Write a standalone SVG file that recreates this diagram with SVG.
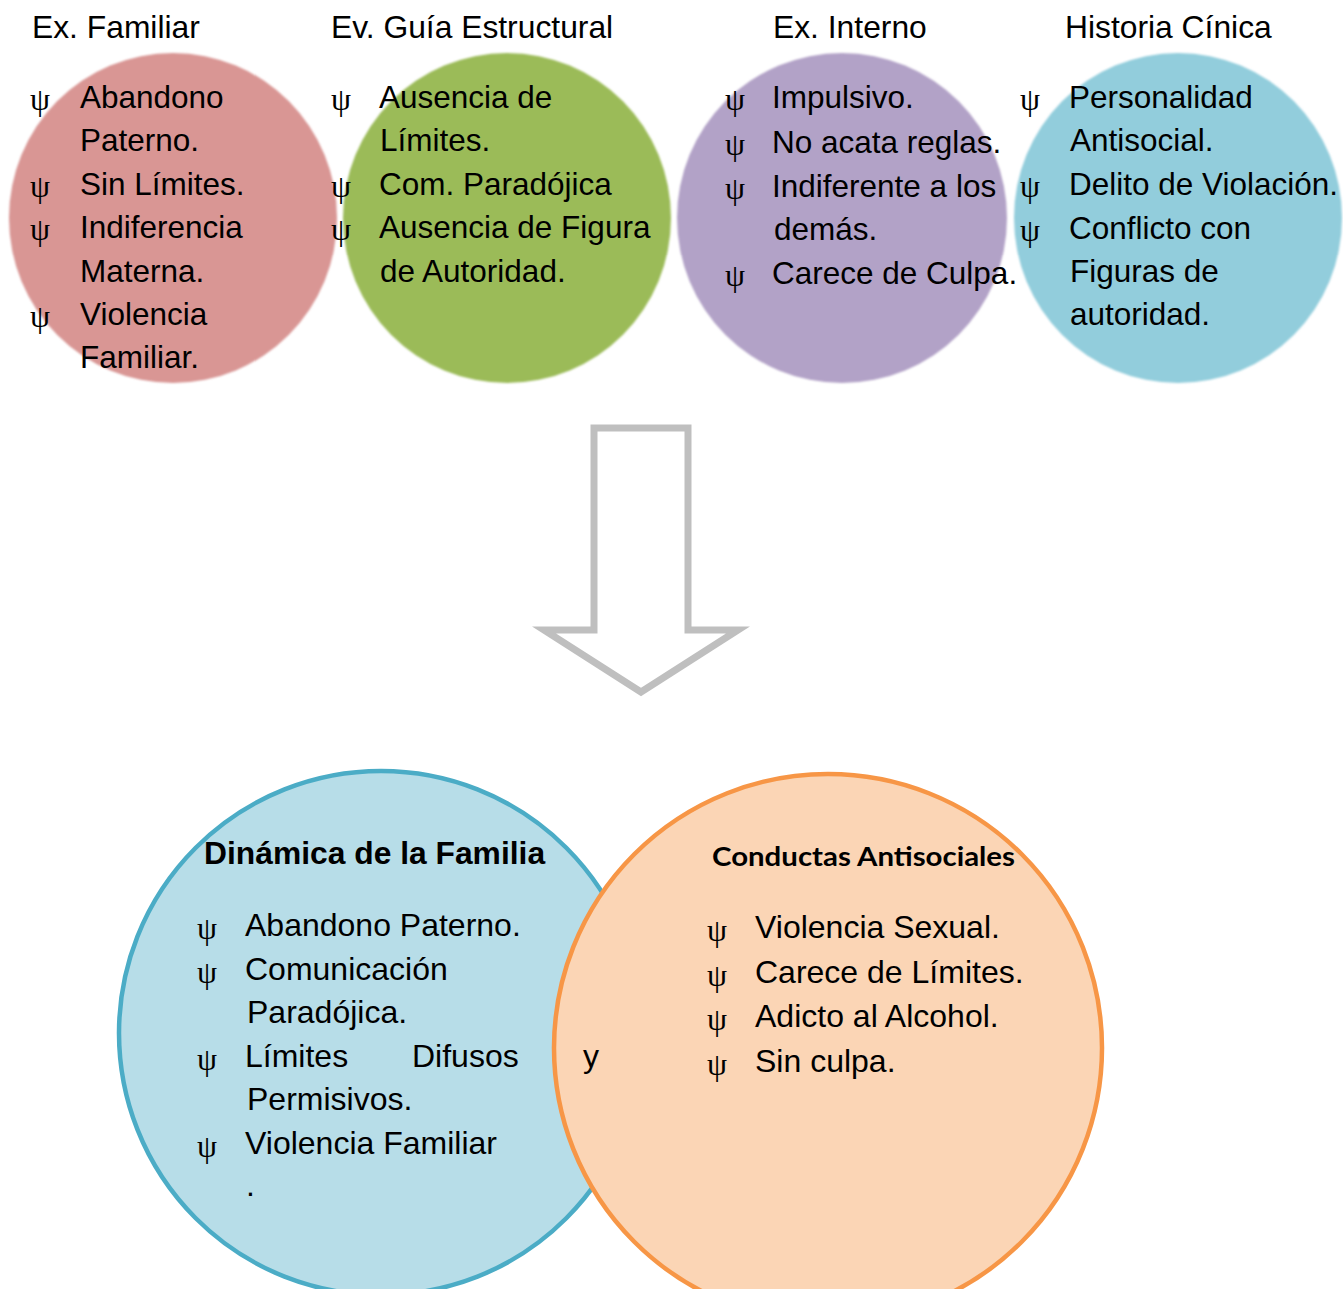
<svg xmlns="http://www.w3.org/2000/svg" width="1343" height="1289" viewBox="0 0 1343 1289">
<defs>
<filter id="soft" x="-5%" y="-5%" width="110%" height="110%"><feGaussianBlur stdDeviation="1.2"/></filter>
</defs>
<style>
.h{font-family:"Liberation Sans",Arial,sans-serif;font-size:31.8px;fill:#000}
.t{font-family:"Liberation Sans",Arial,sans-serif;font-size:31.5px;fill:#000}
.b{font-family:"Liberation Sans",Arial,sans-serif;font-size:32px;fill:#000}
.p{font-family:"Liberation Serif","DejaVu Serif",serif;font-size:32px;fill:#000}
.bh{font-family:"Liberation Sans",Arial,sans-serif;font-size:31.8px;font-weight:bold;fill:#000}
.ch{font-family:Lato,"Open Sans",sans-serif;font-size:27px;font-weight:bold;fill:#000}
</style>
<rect width="1343" height="1289" fill="#fff"/>

<g id="circle-familiar">
<ellipse cx="173" cy="218" rx="164" ry="165" fill="#D99694" filter="url(#soft)"/>
</g>
<g id="circle-guia">
<ellipse cx="507" cy="218" rx="164" ry="165" fill="#9BBB59" filter="url(#soft)"/>
</g>
<g id="circle-interno">
<ellipse cx="842" cy="218" rx="165" ry="165" fill="#B2A2C7" filter="url(#soft)"/>
</g>
<g id="circle-historia">
<ellipse cx="1178" cy="218" rx="164" ry="165" fill="#92CDDC" filter="url(#soft)"/>
</g>

<g id="text-familiar">
<text class="h" x="32" y="38">Ex. Familiar</text>
<text class="p" x="30" y="110">ψ</text><text class="t" x="80" y="108">Abandono</text>
<text class="t" x="80" y="151">Paterno.</text>
<text class="p" x="30" y="197">ψ</text><text class="t" x="80" y="195">Sin Límites.</text>
<text class="p" x="30" y="240">ψ</text><text class="t" x="80" y="238">Indiferencia</text>
<text class="t" x="80" y="282">Materna.</text>
<text class="p" x="30" y="327">ψ</text><text class="t" x="80" y="325">Violencia</text>
<text class="t" x="80" y="368">Familiar.</text>
</g>
<g id="text-guia">
<text class="h" x="331" y="38">Ev. Guía Estructural</text>
<text class="p" x="331" y="110">ψ</text><text class="t" x="379" y="108">Ausencia de</text>
<text class="t" x="380" y="151">Límites.</text>
<text class="p" x="331" y="197">ψ</text><text class="t" x="379" y="195">Com. Paradójica</text>
<text class="p" x="331" y="240">ψ</text><text class="t" x="379" y="238">Ausencia de Figura</text>
<text class="t" x="380" y="282">de Autoridad.</text>
</g>
<g id="text-interno">
<text class="h" x="773" y="38">Ex. Interno</text>
<text class="p" x="725" y="110">ψ</text><text class="t" x="772" y="108">Impulsivo.</text>
<text class="p" x="725" y="155">ψ</text><text class="t" x="772" y="153">No acata reglas.</text>
<text class="p" x="725" y="199">ψ</text><text class="t" x="772" y="197">Indiferente a los</text>
<text class="t" x="774" y="240">demás.</text>
<text class="p" x="725" y="286">ψ</text><text class="t" x="772" y="284">Carece de Culpa.</text>
</g>
<g id="text-historia">
<text class="h" x="1065" y="38">Historia Cínica</text>
<text class="p" x="1020" y="110">ψ</text><text class="t" x="1069" y="108">Personalidad</text>
<text class="t" x="1070" y="151">Antisocial.</text>
<text class="p" x="1020" y="197">ψ</text><text class="t" x="1069" y="195">Delito de Violación.</text>
<text class="p" x="1020" y="241">ψ</text><text class="t" x="1069" y="239">Conflicto con</text>
<text class="t" x="1070" y="282">Figuras de</text>
<text class="t" x="1070" y="325">autoridad.</text>
</g>

<g id="connectors">
<path d="M594,428 H688 V630 H738 L641,692 L544,630 H594 Z" fill="#fff" stroke="#BFBFBF" stroke-width="7" stroke-linejoin="miter"/>
</g>

<g id="circle-dinamica">
<circle cx="381" cy="1033" r="262" fill="#B7DDE8" stroke="#4BACC6" stroke-width="4.5"/>
</g>
<g id="circle-conductas">
<circle cx="828" cy="1048" r="274" fill="#FBD5B5" stroke="#F79646" stroke-width="4.5"/>
</g>

<g id="text-dinamica">
<text class="bh" x="204" y="864">Dinámica de la Familia</text>
<text class="p" x="197" y="939">ψ</text><text class="b" x="245" y="936">Abandono Paterno.</text>
<text class="p" x="197" y="983">ψ</text><text class="b" x="245" y="980">Comunicación</text>
<text class="b" x="247" y="1023">Paradójica.</text>
<text class="p" x="197" y="1070">ψ</text><text class="b" x="245" y="1067">Límites</text><text class="b" x="412" y="1067">Difusos</text>
<text class="b" x="583" y="1067">y</text>
<text class="b" x="247" y="1110">Permisivos.</text>
<text class="p" x="197" y="1157">ψ</text><text class="b" x="245" y="1154">Violencia Familiar</text>
<text class="b" x="246" y="1196">.</text>
</g>
<g id="text-conductas">
<text class="ch" x="712" y="866" textLength="303" lengthAdjust="spacingAndGlyphs">Conductas Antisociales</text>
<text class="p" x="707" y="941">ψ</text><text class="b" x="755" y="938">Violencia Sexual.</text>
<text class="p" x="707" y="986">ψ</text><text class="b" x="755" y="983">Carece de Límites.</text>
<text class="p" x="707" y="1030">ψ</text><text class="b" x="755" y="1027">Adicto al Alcohol.</text>
<text class="p" x="707" y="1075">ψ</text><text class="b" x="755" y="1072">Sin culpa.</text>
</g>
</svg>
